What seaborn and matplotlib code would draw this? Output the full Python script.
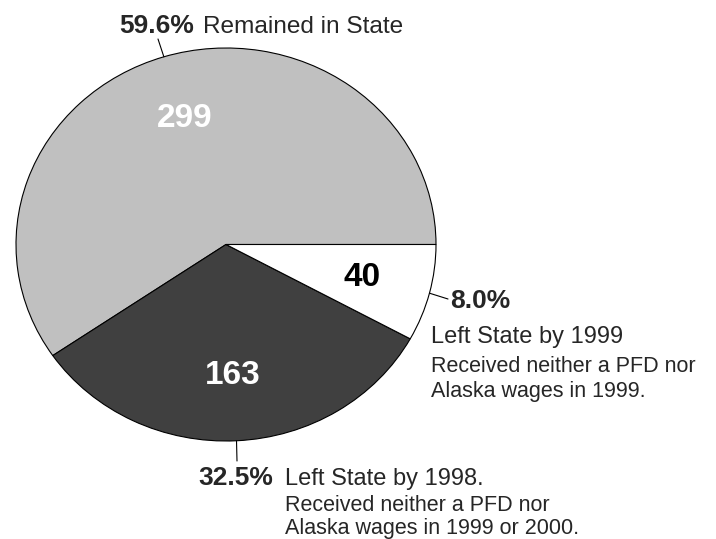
"""Pie chart of where the cohort ended up (Remained / Left by 1998 / Left by 1999)."""

import matplotlib

matplotlib.use("Agg")
import matplotlib.pyplot as plt
import numpy as np
import seaborn as sns

COUNTS = [299, 163, 40]
SHARES = ["59.6%", "32.5%", "8.0%"]
HEADLINES = ["Remained in State", "Left State by 1998.", "Left State by 1999"]
DETAILS = [
    [],
    ["Received neither a PFD nor", "Alaska wages in 1999 or 2000."],
    ["Received neither a PFD nor", "Alaska wages in 1999."],
]
COLORS = ["#c0c0c0", "#404040", "#ffffff"]
NUMBER_COLORS = ["white", "white", "black"]

W, H = 716, 539
# pie box in pixels: left, top, width, height (the original pie is slightly squashed)
PIE_LEFT, PIE_TOP, PIE_W, PIE_H = 16, 48, 420, 393

sns.set_theme(style="white")
plt.rcParams["font.family"] = ["Liberation Sans", "DejaVu Sans"]


def to_data(px, py):
    cx = PIE_LEFT + PIE_W / 2
    cy = PIE_TOP + PIE_H / 2
    return (px - cx) / (PIE_W / 2), (cy - py) / (PIE_H / 2)


fig = plt.figure(figsize=(W / 100, H / 100), dpi=100)
ax = fig.add_axes([PIE_LEFT / W, 1 - (PIE_TOP + PIE_H) / H, PIE_W / W, PIE_H / H])

total = sum(COUNTS)
wedges, _, numbers = ax.pie(
    COUNTS,
    colors=COLORS,
    startangle=0,
    counterclock=True,
    autopct=lambda p: f"{round(p * total / 100)}",
    pctdistance=0.67,
    wedgeprops=dict(edgecolor="black", linewidth=0.8),
    textprops=dict(fontsize=24, fontweight="bold"),
)
for txt, color in zip(numbers, NUMBER_COLORS):
    txt.set_color(color)

ax.set_aspect("auto")
ax.set_xlim(-1, 1)
ax.set_ylim(-1, 1)
ax.axis("off")

# leader line end points and label anchors (pixels)
leader_ends = [(158, 39), (237, 461), (448, 299)]
share_pos = [(119, 33), (198, 485), (450, 308)]
head_pos = [(203, 33), (285, 485), (431, 343)]
head_size = [17.6, 17, 17]
detail_pos = [[], [(285, 511), (285, 534)], [(431, 372), (431, 397)]]

for i, w in enumerate(wedges):
    mid = np.deg2rad((w.theta1 + w.theta2) / 2)
    ax.annotate(
        "",
        xy=(np.cos(mid), np.sin(mid)),
        xytext=to_data(*leader_ends[i]),
        arrowprops=dict(arrowstyle="-", color="black", lw=0.8, shrinkA=0, shrinkB=0),
        annotation_clip=False,
    )
    ax.text(*to_data(*share_pos[i]), SHARES[i], fontsize=19, fontweight="bold",
            ha="left", va="baseline")
    ax.text(*to_data(*head_pos[i]), HEADLINES[i], fontsize=head_size[i],
            ha="left", va="baseline")
    for line, pos in zip(DETAILS[i], detail_pos[i]):
        ax.text(*to_data(*pos), line, fontsize=15.5, ha="left", va="baseline")

fig.savefig("out.png", dpi=100)
